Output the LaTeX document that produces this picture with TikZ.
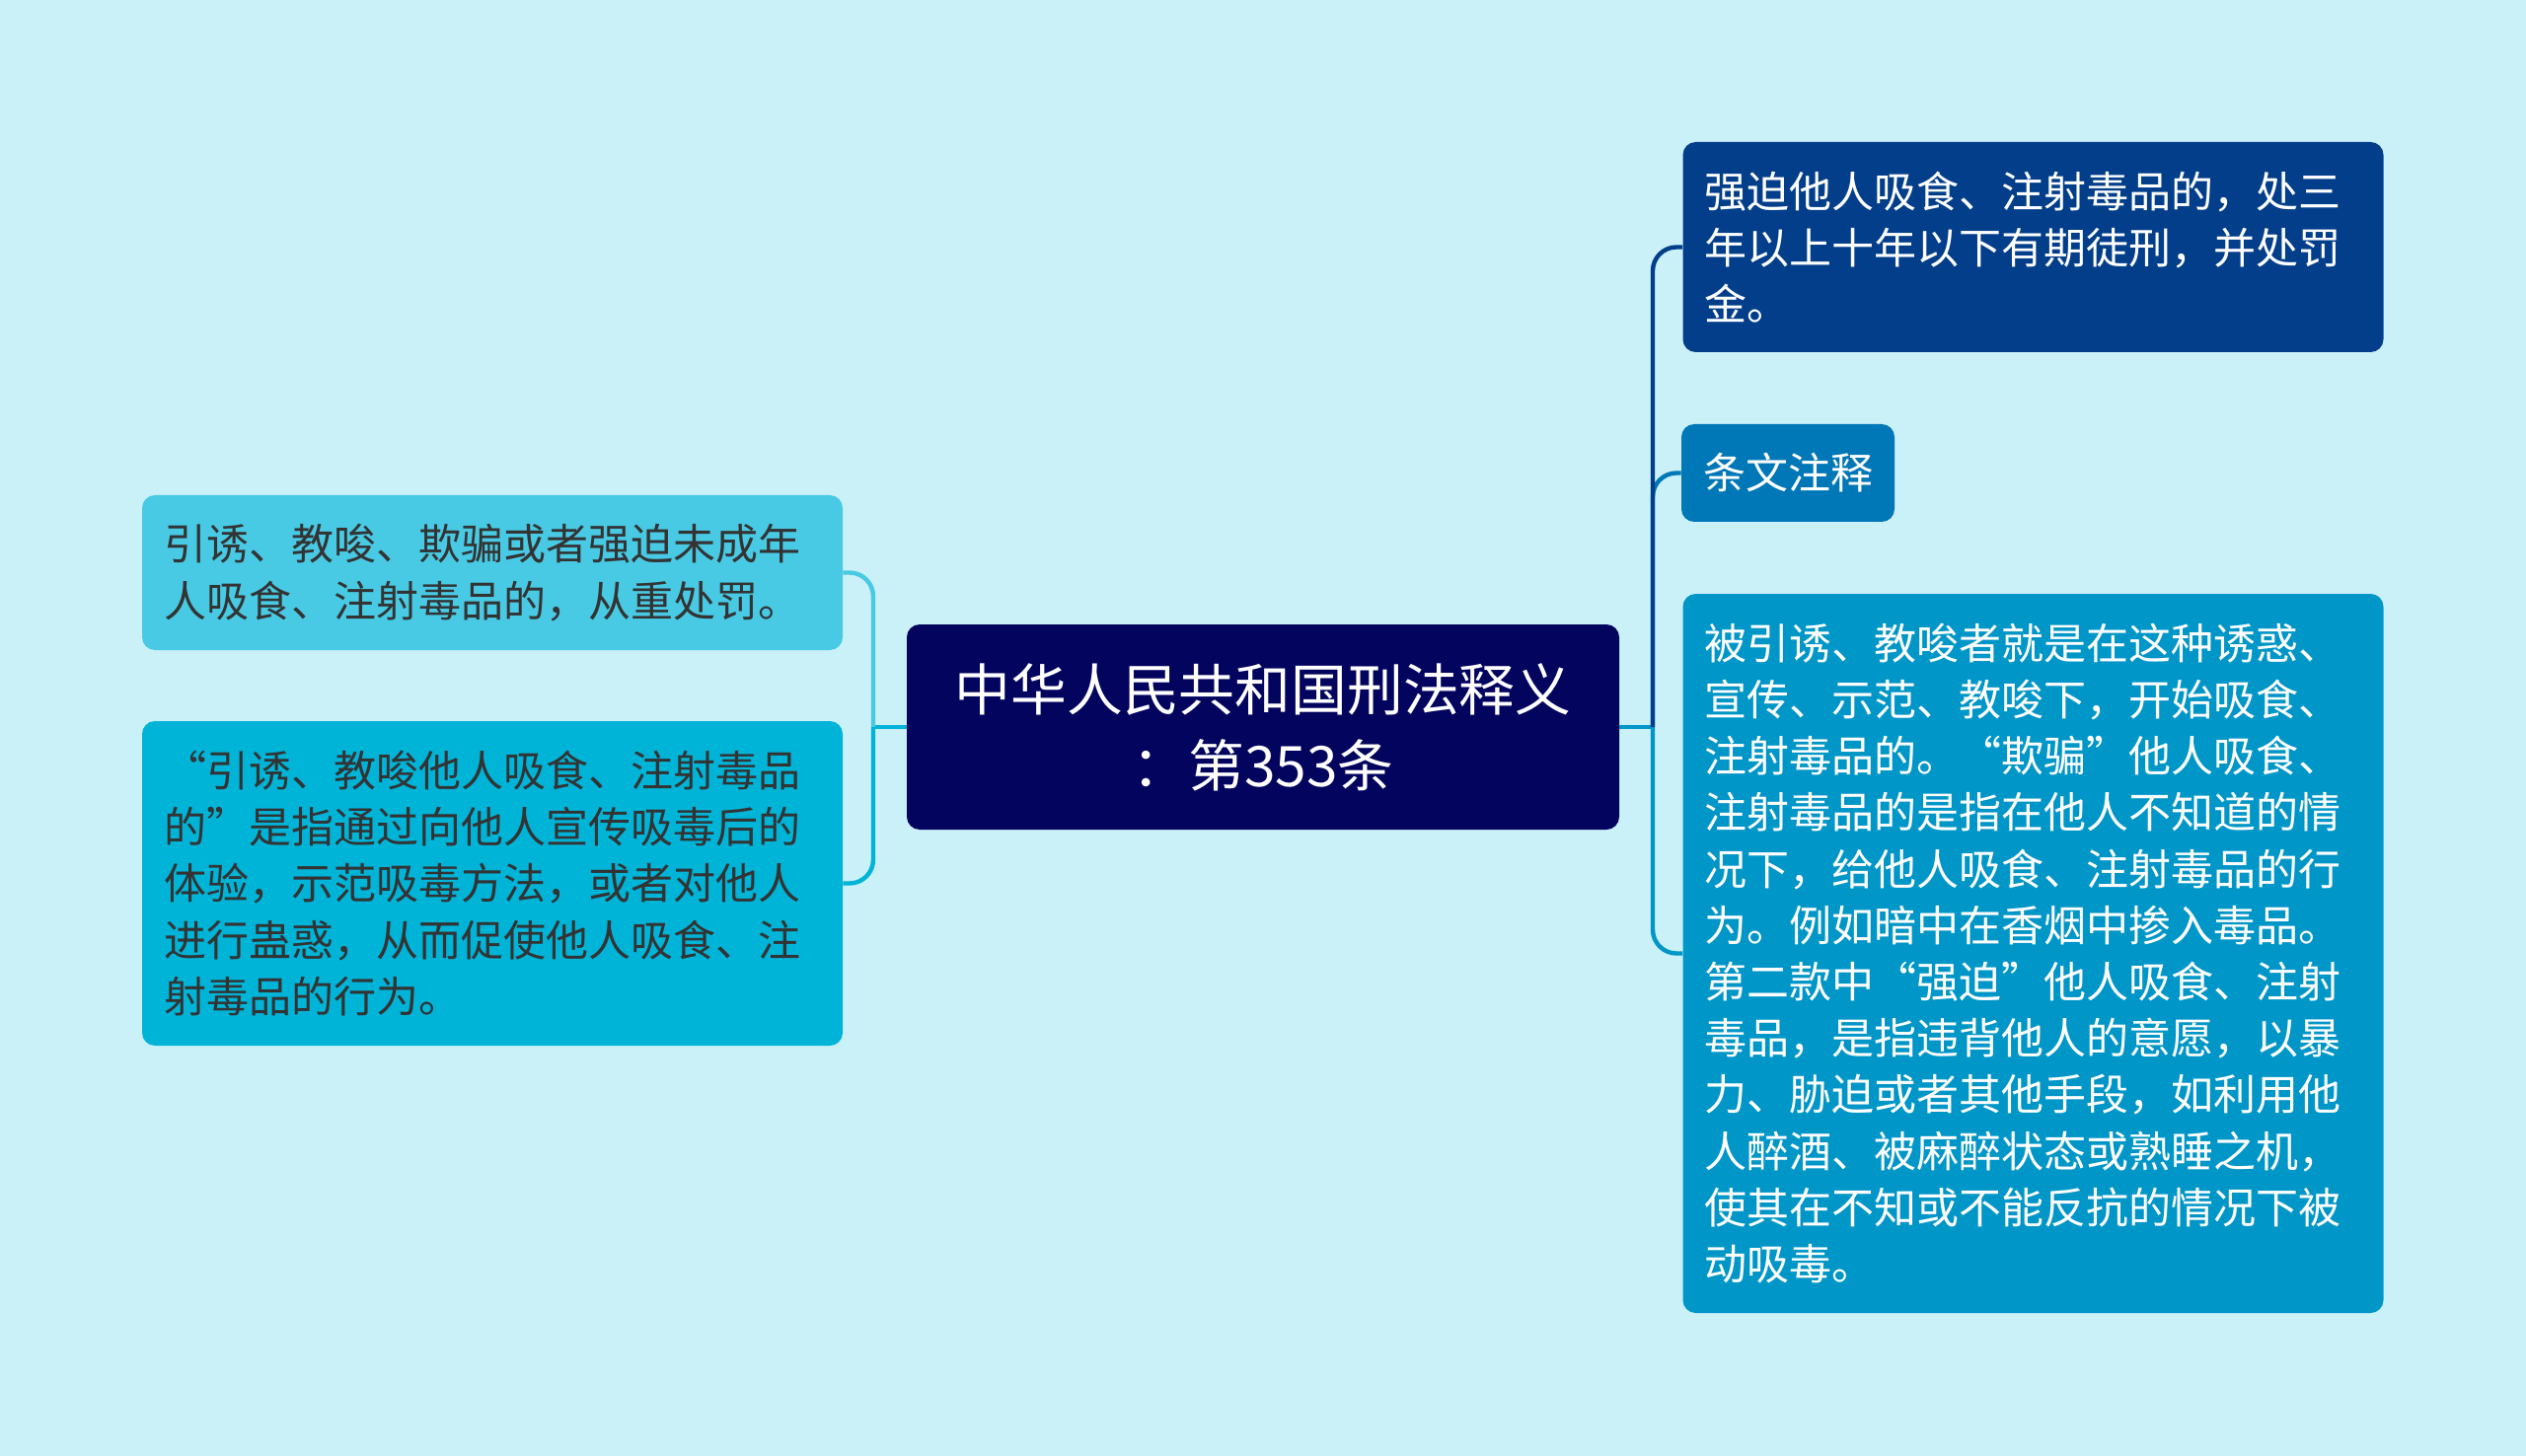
\documentclass[tikz,border=0pt]{standalone}
\usepackage{fontspec}
\setmainfont{Noto Sans CJK SC}
\usepackage{tikz}
\usetikzlibrary{positioning}
\definecolor{bgcol}{HTML}{CAF0F8}
\definecolor{rootcol}{HTML}{03045E}
\definecolor{rightA}{HTML}{023E8A}
\definecolor{rightB}{HTML}{0077B6}
\definecolor{rightC}{HTML}{0096C7}
\definecolor{leftA}{HTML}{48CAE4}
\definecolor{leftB}{HTML}{00B4D8}
\definecolor{darktext}{HTML}{333333}
\tikzset{
  topic/.style={rounded corners=6.5pt, inner xsep=11pt, inner ysep=0pt,
    text width=333pt, align=left, font=\fontsize{21.5pt}{28.6pt}\selectfont},
  link/.style={line width=2.2pt, rounded corners=12pt}
}

\begin{document}
\begin{tikzpicture}[x=0.5pt, y=-0.5pt]
            \fill[bgcol] (0,0) rectangle (2560,1476);
            \node[fill=rootcol, text=white, rounded corners=6.5pt, minimum width=361pt, minimum height=104pt,
                align=center, font=\fontsize{28.4pt}{38.5pt}\selectfont] (root) at (1280,737)
                {中华人民共和国刑法释义\\：第353条};
            \node[topic, fill=leftA, text=darktext, minimum height=78.5pt] (yinyou) at (499,580.5)
                {引诱、教唆、欺骗或者强迫未成年\\人吸食、注射毒品的，从重处罚。};
            \node[topic, fill=leftB, text=darktext, minimum height=164.5pt] (shiyi) at (499,895.5)
                {“引诱、教唆他人吸食、注射毒品\\的”是指通过向他人宣传吸毒后的\\体验，示范吸毒方法，或者对他人\\进行蛊惑，从而促使他人吸食、注\\射毒品的行为。};
            \node[topic, fill=rightA, text=white, minimum height=106.5pt] (qiangpo) at (2060.5,250.5)
                {强迫他人吸食、注射毒品的，处三\\年以上十年以下有期徒刑，并处罚\\金。};
            \node[topic, fill=rightB, text=white, text width=, minimum width=107pt, minimum height=49.5pt,
                align=center] (zhushi) at (1812,479.5) {条文注释};
            \node[topic, fill=rightC, text=white, minimum height=364.5pt] (jieshi) at (2060.5,966.5)
                {被引诱、教唆者就是在这种诱惑、\\宣传、示范、教唆下，开始吸食、\\注射毒品的。“欺骗”他人吸食、\\注射毒品的是指在他人不知道的情\\况下，给他人吸食、注射毒品的行\\为。例如暗中在香烟中掺入毒品。\\第二款中“强迫”他人吸食、注射\\毒品，是指违背他人的意愿，以暴\\力、胁迫或者其他手段，如利用他\\人醉酒、被麻醉状态或熟睡之机，\\使其在不知或不能反抗的情况下被\\动吸毒。};
            \coordinate (lj) at (885,737);
            \coordinate (rj) at (1675,737);
            \draw[link, leftB] (root.west) to (lj);
            \draw[link, leftA] (lj) |- (yinyou.east);
            \draw[link, leftB] (lj) |- (shiyi.east);
            \draw[link, rightC] (root.east) to (rj);
            \draw[link, rightC] (rj) |- (jieshi.west);
            \draw[link, rightB] (rj) |- (zhushi.west);
            \draw[link, rightA] (rj) |- (qiangpo.west);
\end{tikzpicture}
\end{document}
